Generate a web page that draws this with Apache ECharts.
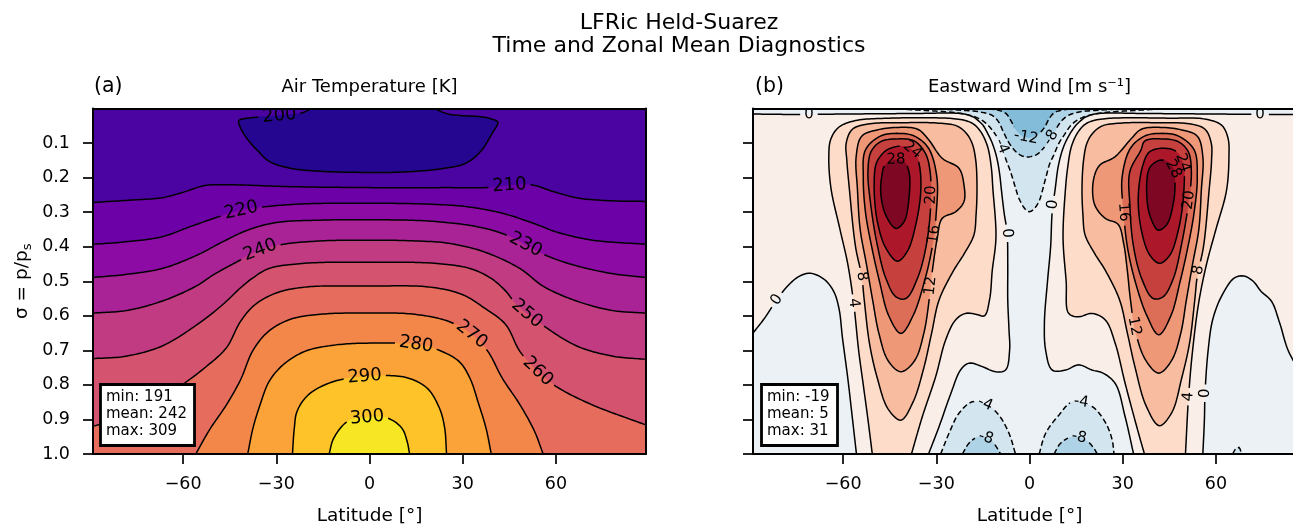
<!DOCTYPE html>
<html>
<head>
<meta charset="utf-8">
<title>LFRic Held-Suarez</title>
<script src="https://cdn.jsdelivr.net/npm/echarts@6.0.0/dist/echarts.min.js"></script>
<style>
  html, body { margin: 0; padding: 0; background: #ffffff; }
  #chart { width: 1293px; height: 525px; }
</style>
</head>
<body>
<div id="chart"></div>
<script>
// ---------------- axes ----------------
const latRange = [-89, 89];
const sigmaRange = [0, 1];
const latTicks = [-60, -30, 0, 30, 60];
const sigmaTicks = [0.1, 0.2, 0.3, 0.4, 0.5, 0.6, 0.7, 0.8, 0.9, 1.0];

// ---------------- summary statistics (min, mean, max) ----------------
const tempStats = [191, 242, 309];
const windStats = [-19, 5, 31];

// ---------------- filled-contour level ranges ----------------
const tempLevelRange = [190, 310];   // 10 K bands
const windLevelRange = [-32, 32];    // 4 m/s bands, centred on zero

// ---------------- air temperature isotherms [lat, sigma] ----------------
const t200 = [[-18.5,0],[-21.9,0.013],[-29,0.021],[-35.8,0.025],[-40,0.029],[-42.1,0.035],[-41.5,0.056],[-39.2,0.09],[-35.8,0.124],[-32.3,0.153],[-25.4,0.173],[-15,0.182],[-2.3,0.185],[10.4,0.184],[24.2,0.173],[31.1,0.158],[35.8,0.124],[39.2,0.076],[41.3,0.039],[39.5,0.031],[36.9,0.025],[25.4,0.016],[20.8,0]];
const t210 = [[-89,0.272],[-78.4,0.266],[-66.7,0.258],[-59.8,0.242],[-53,0.223],[-43.8,0.221],[-26.5,0.226],[0,0.229],[25.4,0.229],[37.6,0.229],[52,0.221],[59,0.24],[67,0.259],[77.5,0.267],[89,0.269]];
const t220 = [[-89,0.393],[-78.4,0.386],[-66.7,0.371],[-57.7,0.342],[-48.4,0.313],[-41.3,0.295],[-33.4,0.284],[-20.8,0.276],[0,0.274],[19.6,0.277],[31.1,0.284],[42.7,0.303],[54.2,0.337],[60,0.357],[71.7,0.381],[89,0.393]];
const t230 = [[-89,0.489],[-78.2,0.48],[-66.7,0.463],[-55.4,0.424],[-47.3,0.386],[-39.2,0.352],[-30,0.33],[-15,0.323],[0,0.322],[19.6,0.326],[34.6,0.342],[44,0.366],[56.5,0.424],[65.7,0.453],[77.5,0.477],[89,0.489]];
const t240 = [[-89,0.592],[-78.4,0.585],[-66.9,0.558],[-56,0.515],[-50,0.48],[-42.7,0.444],[-35.2,0.41],[-27.7,0.393],[-15,0.383],[0,0.381],[13.8,0.383],[25.4,0.39],[36.9,0.415],[48.4,0.463],[56,0.515],[66.9,0.558],[78.4,0.585],[89,0.592]];
const t250 = [[-89,0.724],[-78.4,0.717],[-66.9,0.688],[-55.4,0.625],[-47.3,0.568],[-41.5,0.519],[-37.5,0.49],[-32.3,0.463],[-20.8,0.448],[0,0.445],[20.8,0.448],[32.3,0.463],[39.2,0.492],[44,0.53],[47.3,0.568],[55.4,0.625],[66.9,0.688],[78.4,0.717],[89,0.726]];
const t260 = [[-89,0.92],[-80,0.895],[-71.5,0.857],[-64,0.822],[-59.4,0.794],[-53.1,0.751],[-46.1,0.693],[-41.5,0.616],[-36.9,0.568],[-30,0.534],[-20.8,0.517],[0,0.514],[19.6,0.517],[30,0.539],[36.9,0.577],[43.8,0.625],[48.4,0.703],[54.2,0.761],[60,0.804],[71.5,0.857],[89,0.916]];
const t270 = [[-55.9,1],[-51.5,0.93],[-46,0.857],[-41.5,0.785],[-37.5,0.7],[-32.5,0.645],[-25.4,0.61],[-15,0.595],[0,0.592],[13.8,0.595],[25.4,0.616],[32.9,0.654],[38.1,0.703],[42.7,0.78],[48.4,0.857],[53.1,0.934],[55.9,1]];
const t280 = [[-39.2,1],[-37.5,0.925],[-35.2,0.857],[-32.3,0.79],[-27.7,0.741],[-20.8,0.703],[-11.5,0.685],[0,0.679],[15,0.683],[21.9,0.698],[28.8,0.732],[32.3,0.78],[35.2,0.857],[37.5,0.925],[39.2,1]];
const t290 = [[-24.8,1],[-24.2,0.925],[-23.3,0.876],[-19.6,0.828],[-11.5,0.79],[0,0.775],[11.5,0.778],[18.5,0.809],[22.5,0.867],[24.2,0.925],[24.8,1]];
const t300 = [[-13,1],[-11.5,0.954],[-6.9,0.905],[0,0.894],[5.8,0.896],[10.4,0.925],[12.1,0.963],[12.9,1]];
// inline isotherm labels [level, lat, sigma]
const tempLabelSpots = [[200,-29,0.021],[210,44.8,0.225],[220,-41.3,0.295],[230,49.8,0.397],[240,-35.2,0.41],[250,50.7,0.597],[260,54.2,0.761],[270,32.9,0.654],[280,15,0.683],[290,-1.2,0.775],[300,-0.9,0.894]];

// ---------------- eastward wind isotachs [lat, sigma] ----------------
// zero lines
const u0West = [[-89,0.016],[-80,0.017],[-71,0.017],[-60,0.016],[-45,0.015],[-33,0.014],[-26,0.013],[-21,0.016],[-18,0.025],[-16.5,0.035],[-15,0.048],[-13.6,0.07],[-12,0.1],[-10.6,0.14],[-9.6,0.19],[-9.1,0.231],[-8.2,0.3],[-7.2,0.361],[-7,0.45],[-7,0.554],[-6.6,0.64],[-6.4,0.699],[-7.7,0.757],[-10.9,0.762],[-15.2,0.747],[-19.5,0.737],[-22.2,0.757],[-25.4,0.827],[-29.2,0.923],[-32.5,1]];
const u0East = [[33.5,1],[30.8,0.893],[27.6,0.796],[23.5,0.765],[20.1,0.757],[15.8,0.742],[11.6,0.757],[7.3,0.757],[5.2,0.7],[4.8,0.62],[5.8,0.5],[6.8,0.4],[7.3,0.3],[8.3,0.231],[9.2,0.17],[10.6,0.12],[12,0.09],[13.6,0.065],[15,0.048],[16.5,0.035],[18,0.025],[21,0.016],[26,0.013],[33,0.014],[45,0.015],[60,0.016],[75,0.017],[89,0.017]];
const u0PolarW = [[-89,0.65],[-85.2,0.606],[-81.8,0.56],[-78,0.515],[-74,0.485],[-70.4,0.477],[-66,0.495],[-63,0.53],[-61.3,0.58],[-60.2,0.664],[-58.5,0.78],[-56.9,0.905],[-55.7,1]];
const u0PolarE = [[55.8,1],[56.3,0.9],[56.5,0.824],[57.5,0.7],[59,0.61],[62,0.54],[66,0.49],[69,0.485],[72,0.5],[74.5,0.529],[77.9,0.558],[80.5,0.62],[83.4,0.703],[89,0.79]];
// easterlies
const uNeg4Top = [[-45,0],[-35,0.005],[-25,0.011],[-19,0.02],[-15.5,0.033],[-13.2,0.05],[-11,0.075],[-9,0.11],[-7.5,0.15],[-6.1,0.183],[-4.5,0.23],[-3.4,0.26],[-1.5,0.29],[0,0.299],[1.5,0.29],[3,0.27],[5.2,0.202],[6.5,0.16],[7.8,0.135],[9.5,0.1],[11.3,0.075],[13.2,0.05],[15.5,0.033],[19,0.02],[25,0.011],[35,0.005],[45,0]];
const uNeg8Top = [[-32,0],[-22,0.005],[-16,0.01],[-12,0.02],[-10,0.038],[-8.3,0.07],[-6.2,0.105],[-3.5,0.132],[-1.1,0.14],[2,0.135],[4.5,0.115],[6.5,0.09],[8.5,0.06],[10.3,0.036],[12.5,0.02],[16,0.01],[22,0.005],[32,0]];
const uNeg12Top = [[-16,0],[-10,0.005],[-7.5,0.015],[-6,0.035],[-4.3,0.062],[-1.1,0.084],[2.5,0.076],[4.8,0.055],[6.3,0.03],[8,0.012],[11,0.004],[16,0]];
const uNeg4BotW = [[-28.6,1],[-25.9,0.94],[-22.7,0.882],[-18.4,0.849],[-13.6,0.858],[-9.9,0.887],[-6.6,0.94],[-4.5,1]];
const uNeg8BotW = [[-21.6,1],[-19.5,0.969],[-16.3,0.95],[-12.6,0.959],[-10.4,0.983],[-9.3,1]];
const uNeg4BotE = [[3.1,1],[5.2,0.94],[9.5,0.887],[13.8,0.849],[20.2,0.863],[24.5,0.91],[26.6,0.959],[27.2,1]];
const uNeg8BotE = [[7.9,1],[10,0.969],[13.8,0.95],[18,0.959],[20.7,0.983],[21.8,1]];
const uNeg4Spot = [[65.4,1],[66.3,0.986],[67.4,0.981],[68.3,1]];
// southern jet
const uJetW4 = [[-38,1],[-34.5,0.892],[-30.2,0.776],[-27,0.67],[-23.8,0.612],[-20.6,0.593],[-17,0.596],[-14.5,0.6],[-12.8,0.55],[-12,0.47],[-10.8,0.373],[-11.8,0.231],[-12.3,0.17],[-13.5,0.11],[-15.5,0.07],[-18,0.045],[-21,0.034],[-25,0.029],[-30,0.027],[-45,0.028],[-56,0.035],[-61.5,0.055],[-64,0.09],[-64.6,0.14],[-63.9,0.231],[-61,0.35],[-58.5,0.45],[-56.6,0.563],[-55,0.7],[-53.5,0.8],[-52,0.9],[-50.6,1]];
const uJetW8 = [[-23.5,0.05],[-20.5,0.07],[-18.5,0.1],[-17.3,0.15],[-16.9,0.231],[-17.2,0.308],[-17.9,0.366],[-21,0.42],[-24.5,0.47],[-29.1,0.554],[-31.5,0.65],[-34,0.75],[-37.5,0.85],[-41.4,0.902],[-45.5,0.87],[-49,0.78],[-51.5,0.68],[-53.2,0.554],[-54,0.486],[-56,0.4],[-58,0.231],[-58.8,0.15],[-59,0.1],[-57,0.06],[-52,0.045],[-40,0.041],[-30,0.042]];
const uJetW12 = [[-43,0.055],[-36,0.06],[-32.5,0.09],[-28.1,0.144],[-22.7,0.173],[-21.1,0.221],[-21.1,0.27],[-23.8,0.299],[-28.1,0.318],[-29.7,0.376],[-31.3,0.472],[-32.3,0.554],[-34,0.65],[-37,0.73],[-41.4,0.762],[-45.5,0.73],[-48.5,0.65],[-50.5,0.554],[-52.5,0.45],[-54.5,0.35],[-55.4,0.231],[-55.8,0.14],[-54,0.08],[-49,0.062]];
const uJetW16 = [[-42,0.072],[-37,0.08],[-32.5,0.115],[-29.8,0.2],[-30,0.3],[-31.3,0.4],[-33.8,0.5],[-37.5,0.6],[-41.4,0.651],[-45.3,0.6],[-48.3,0.5],[-50.8,0.4],[-52.8,0.3],[-53.5,0.2],[-52.8,0.12],[-48,0.08]];
const uJetW20 = [[-42.5,0.088],[-37.1,0.094],[-33.5,0.13],[-32,0.183],[-31.8,0.279],[-33.2,0.395],[-36,0.49],[-39.8,0.55],[-43,0.545],[-46.3,0.49],[-49,0.395],[-51.1,0.279],[-52,0.183],[-51,0.125],[-47.9,0.096]];
const uJetW24 = [[-49.5,0.164],[-50,0.231],[-49,0.326],[-46.3,0.403],[-42.5,0.442],[-39.3,0.413],[-36.6,0.336],[-35,0.239],[-35.5,0.162],[-37.2,0.124],[-40.9,0.109],[-45.7,0.119],[-48.4,0.143]];
const uJetW28 = [[-47.3,0.183],[-47.9,0.241],[-46.3,0.308],[-43,0.347],[-40.4,0.328],[-38.8,0.26],[-38.8,0.183],[-40.4,0.154],[-43.6,0.149],[-46.8,0.168]];
// northern jet
const uJetE4 = [[37,1],[35.1,0.94],[30.8,0.796],[27.6,0.68],[24.4,0.612],[20.1,0.593],[15.8,0.603],[12.6,0.593],[11.8,0.5],[10.8,0.373],[11.6,0.231],[12.3,0.17],[13.5,0.11],[15.5,0.07],[18,0.045],[21,0.034],[25,0.029],[30,0.027],[45,0.028],[56,0.03],[61.8,0.048],[63.9,0.086],[64.2,0.14],[63.4,0.238],[60,0.35],[57,0.45],[54.5,0.56],[52.5,0.7],[51.2,0.834],[50.2,1]];
const uJetE8 = [[23.5,0.05],[20.5,0.07],[18.5,0.1],[17.4,0.15],[16.9,0.231],[17.2,0.308],[17.9,0.366],[21,0.42],[24.5,0.47],[29,0.554],[31.5,0.65],[34,0.75],[37.5,0.86],[41.8,0.918],[45.8,0.88],[49,0.78],[51.5,0.68],[53.2,0.554],[54,0.486],[56,0.4],[57.8,0.238],[58.6,0.15],[58.5,0.1],[56.5,0.06],[52,0.045],[40,0.041],[30,0.042]];
const uJetE12 = [[43,0.055],[36,0.06],[32.5,0.09],[27.5,0.14],[22.5,0.165],[20.5,0.212],[21,0.279],[24.4,0.318],[28.5,0.335],[30.3,0.39],[31.5,0.47],[32.5,0.554],[34.2,0.65],[37.5,0.73],[41.6,0.766],[45.7,0.73],[48.7,0.65],[50.5,0.554],[52.5,0.45],[54.5,0.35],[55.3,0.238],[55.8,0.14],[54,0.08],[49,0.062]];
const uJetE16 = [[42,0.072],[37,0.08],[32.5,0.115],[29.8,0.2],[30.3,0.3],[31.5,0.4],[34,0.5],[37.8,0.6],[41.6,0.655],[45.5,0.6],[48.5,0.5],[51,0.4],[53,0.3],[54,0.2],[53,0.12],[48,0.08]];
const uJetE20 = [[42.5,0.088],[37.1,0.094],[35.9,0.12],[32.3,0.183],[32.3,0.279],[33.4,0.395],[36.1,0.492],[39.8,0.55],[43,0.545],[46.3,0.492],[48.9,0.395],[51.1,0.279],[52.1,0.183],[51.1,0.125],[47.9,0.096]];
const uJetE24 = [[36.5,0.164],[35,0.26],[36.1,0.356],[38.7,0.424],[41.9,0.448],[45.2,0.424],[47.8,0.356],[49.5,0.26],[49.5,0.164],[47.3,0.125],[43.6,0.115],[38.7,0.125]];
const uJetE28 = [[38.2,0.183],[37.7,0.241],[38.7,0.308],[41.4,0.352],[44.1,0.337],[46.2,0.279],[46.8,0.212],[45.7,0.164],[42.5,0.149],[39.3,0.164]];
// inline isotach labels [level, lat, sigma]
const windLabelSpots = [
  [0,-71.2,0.017],[0,74.2,0.017],
  [-12,-1.1,0.084],[-8,7.3,0.086],[-4,-9.5,0.11],
  [0,-7.2,0.361],[0,7.3,0.279],
  [28,-43,0.163],[24,-38.8,0.13],[20,-32.3,0.25],[16,-31.8,0.366],[12,-30.8,0.514],[8,-54,0.486],[4,-56.6,0.563],[0,-81.8,0.553],
  [28,44.6,0.178],[24,47.3,0.164],[20,50.5,0.265],[16,30.7,0.299],[12,32.9,0.635],[8,53.2,0.467],[4,51.2,0.834],[0,56.5,0.824],
  [-4,-14.4,0.852],[-8,-14.4,0.952],[-4,16.8,0.85],[-8,15.6,0.952]
];

// ---------------- colour maps ----------------
const PLASMA = ['#0d0887','#2a0593','#41049d','#5502a4','#6a00a8','#7e03a8','#8f0da4','#a11b9b','#b12a90','#bf3984','#cc4778','#d6556d','#e16462','#ea7457','#f2844b','#f89540','#fca636','#feb72d','#fcce25','#f7e225','#f0f921'];
const RDBU_R = ['#053061','#2166ac','#4393c3','#92c5de','#d1e5f0','#f7f7f7','#fddbc7','#f4a582','#d6604d','#b2182b','#67001f'];
function hexRgb(h) { const n = parseInt(h.slice(1), 16); return [(n >> 16) & 255, (n >> 8) & 255, n & 255]; }
function cmapAt(stops, t) {
  t = Math.max(0, Math.min(1, t));
  const x = t * (stops.length - 1);
  const i = Math.min(stops.length - 2, Math.floor(x));
  const f = x - i;
  const a = hexRgb(stops[i]), b = hexRgb(stops[i + 1]);
  return 'rgb(' + a.map((v, k) => Math.round(v + (b[k] - v) * f)).join(',') + ')';
}
const tempColor = lo => cmapAt(PLASMA, (lo + 5 - tempLevelRange[0]) / (tempLevelRange[1] - tempLevelRange[0]));
const windColor = lo => cmapAt(RDBU_R, (lo + 2 - windLevelRange[0]) / (windLevelRange[1] - windLevelRange[0]));

// ---------------- panel descriptions ----------------
const L0 = latRange[0], L1 = latRange[1], S0 = sigmaRange[0], S1 = sigmaRange[1];
const frameBox = [[L0, S0], [L1, S0], [L1, S1], [L0, S1]];
const floorCorners = [[L1, S1], [L0, S1]];

const tempPanel = {
  color: tempColor,
  labelSize: 18,
  lines: [[200,t200,false],[210,t210,false],[220,t220,false],[230,t230,false],[240,t240,false],[250,t250,false],[260,t260,false],[270,t270,false],[280,t280,false],[290,t290,false],[300,t300,false]],
  labels: tempLabelSpots,
  regions: [
    {lo: 200, parts: [[frameBox, null]]},
    {lo: 190, parts: [[t200, 'open']]},
    {lo: 210, parts: [[t210, 'open'], [floorCorners, null]]},
    {lo: 220, parts: [[t220, 'open'], [floorCorners, null]]},
    {lo: 230, parts: [[t230, 'open'], [floorCorners, null]]},
    {lo: 240, parts: [[t240, 'open'], [floorCorners, null]]},
    {lo: 250, parts: [[t250, 'open'], [floorCorners, null]]},
    {lo: 260, parts: [[t260, 'open'], [floorCorners, null]]},
    {lo: 270, parts: [[t270, 'open']]},
    {lo: 280, parts: [[t280, 'open']]},
    {lo: 290, parts: [[t290, 'open']]},
    {lo: 300, parts: [[t300, 'open']]}
  ]
};

const windPanel = {
  color: windColor,
  labelSize: 15,
  lines: [
    [0,u0West,false],[0,u0East,false],[0,u0PolarW,false],[0,u0PolarE,false],
    [-4,uNeg4Top,false],[-8,uNeg8Top,false],[-12,uNeg12Top,false],
    [-4,uNeg4BotW,false],[-8,uNeg8BotW,false],[-4,uNeg4BotE,false],[-8,uNeg8BotE,false],[-4,uNeg4Spot,false],
    [4,uJetW4,false],[8,uJetW8,true],[12,uJetW12,true],[16,uJetW16,true],[20,uJetW20,true],[24,uJetW24,true],[28,uJetW28,true],
    [4,uJetE4,false],[8,uJetE8,true],[12,uJetE12,true],[16,uJetE16,true],[20,uJetE20,true],[24,uJetE24,true],[28,uJetE28,true]
  ],
  labels: windLabelSpots,
  regions: [
    {lo: 0, parts: [[frameBox, null]]},
    {lo: -4, parts: [[[[L0, S0]], null], [u0West, 'open'], [u0East, 'open'], [[[L1, S0]], null]]},
    {lo: -4, parts: [[u0PolarW, 'open'], [[[L0, S1]], null]]},
    {lo: -4, parts: [[u0PolarE, 'open'], [[[L1, S1]], null]]},
    {lo: -8, parts: [[uNeg4Top, 'open']]},
    {lo: -8, parts: [[uNeg4BotW, 'open']]},
    {lo: -8, parts: [[uNeg4BotE, 'open']]},
    {lo: -8, parts: [[uNeg4Spot, 'open']]},
    {lo: -12, parts: [[uNeg8Top, 'open']]},
    {lo: -12, parts: [[uNeg8BotW, 'open']]},
    {lo: -12, parts: [[uNeg8BotE, 'open']]},
    {lo: -16, parts: [[uNeg12Top, 'open']]},
    {lo: 4, parts: [[uJetW4, 'open']]},
    {lo: 4, parts: [[uJetE4, 'open']]},
    {lo: 8, parts: [[uJetW8, 'closed']]},
    {lo: 8, parts: [[uJetE8, 'closed']]},
    {lo: 12, parts: [[uJetW12, 'closed']]},
    {lo: 12, parts: [[uJetE12, 'closed']]},
    {lo: 16, parts: [[uJetW16, 'closed']]},
    {lo: 16, parts: [[uJetE16, 'closed']]},
    {lo: 20, parts: [[uJetW20, 'closed']]},
    {lo: 20, parts: [[uJetE20, 'closed']]},
    {lo: 24, parts: [[uJetW24, 'closed']]},
    {lo: 24, parts: [[uJetE24, 'closed']]},
    {lo: 28, parts: [[uJetW28, 'closed']]},
    {lo: 28, parts: [[uJetE28, 'closed']]}
  ]
};

// ---------------- geometry helpers (pixel space) ----------------
const FONT = 'DejaVu Sans';
const measureCtx = document.createElement('canvas').getContext('2d');
function textWidth(t, size) { measureCtx.font = size + 'px "' + FONT + '"'; return measureCtx.measureText(t).width; }
function lerp(a, b, u) { return [a[0] + (b[0] - a[0]) * u, a[1] + (b[1] - a[1]) * u]; }

// centripetal Catmull-Rom curve through the given vertices
function smoothPath(pts, closed) {
  const n = pts.length;
  if (n < 3) return pts.map(p => p.slice());
  const get = i => closed ? pts[((i % n) + n) % n] : pts[Math.max(0, Math.min(n - 1, i))];
  const knot = (a, b) => Math.max(Math.sqrt(Math.hypot(b[0] - a[0], b[1] - a[1])), 1e-3);
  const out = [];
  const segs = closed ? n : n - 1;
  for (let i = 0; i < segs; i++) {
    const p1 = get(i), p2 = get(i + 1);
    let p0 = get(i - 1), p3 = get(i + 2);
    if (!closed && i === 0) p0 = [2 * p1[0] - p2[0], 2 * p1[1] - p2[1]];
    if (!closed && i === n - 2) p3 = [2 * p2[0] - p1[0], 2 * p2[1] - p1[1]];
    const t0 = 0, t1 = t0 + knot(p0, p1), t2 = t1 + knot(p1, p2), t3 = t2 + knot(p2, p3);
    const steps = Math.max(2, Math.ceil(Math.hypot(p2[0] - p1[0], p2[1] - p1[1]) / 2.5));
    for (let k = 0; k < steps; k++) {
      const t = t1 + (t2 - t1) * k / steps;
      const a1 = lerp(p0, p1, (t - t0) / (t1 - t0));
      const a2 = lerp(p1, p2, (t - t1) / (t2 - t1));
      const a3 = lerp(p2, p3, (t - t2) / (t3 - t2));
      const b1 = lerp(a1, a2, (t - t0) / (t2 - t0));
      const b2 = lerp(a2, a3, (t - t1) / (t3 - t1));
      out.push(lerp(b1, b2, (t - t1) / (t2 - t1)));
    }
  }
  if (!closed) out.push(pts[n - 1].slice());
  return out;
}
function cumLen(p) {
  const c = [0];
  for (let i = 1; i < p.length; i++) c.push(c[i - 1] + Math.hypot(p[i][0] - p[i - 1][0], p[i][1] - p[i - 1][1]));
  return c;
}
function pointAt(ln, s) {
  const c = ln.cum, p = ln.pts;
  if (s <= 0) return p[0].slice();
  if (s >= c[c.length - 1]) return p[p.length - 1].slice();
  let i = 1;
  while (c[i] < s) i++;
  return lerp(p[i - 1], p[i], (s - c[i - 1]) / ((c[i] - c[i - 1]) || 1));
}
function subPath(ln, a, b) {
  const out = [pointAt(ln, a)];
  for (let k = 0; k < ln.pts.length; k++) if (ln.cum[k] > a && ln.cum[k] < b) out.push(ln.pts[k]);
  out.push(pointAt(ln, b));
  return out;
}
function splitByCuts(ln) {
  if (!ln.cuts.length) return [ln.pts];
  const cuts = ln.cuts.slice().sort((x, y) => x[0] - y[0]);
  const total = ln.cum[ln.cum.length - 1];
  const vis = [];
  let s = 0;
  cuts.forEach(([a, b]) => { if (a > s) vis.push([s, a]); s = Math.max(s, b); });
  if (s < total) vis.push([s, total]);
  return vis.map(([a, b]) => subPath(ln, a, b));
}
const levelText = v => (v < 0 ? '-' + Math.abs(v) : String(v));

// builds fills, line pieces (with gaps for labels) and label placements for one panel
function panelGeometry(panel, api) {
  const probe = api.coord([0, 0.5]);
  const key = probe[0].toFixed(2) + ',' + probe[1].toFixed(2);
  if (panel.geo && panel.geo.key === key) return panel.geo;
  const px = p => api.coord(p);
  const lines = panel.lines.map(([level, pts, closed]) => {
    const d = smoothPath(pts.map(px), closed);
    if (closed) d.push(d[0].slice());
    return {level, pts: d, cum: cumLen(d), cuts: []};
  });
  const labels = [];
  panel.labels.forEach(([level, lat, sig]) => {
    const target = px([lat, sig]);
    let best = null;
    lines.forEach((ln, li) => {
      if (ln.level !== level) return;
      ln.pts.forEach((p, k) => {
        const dd = (p[0] - target[0]) ** 2 + (p[1] - target[1]) ** 2;
        if (!best || dd < best.dd) best = {dd, li, k};
      });
    });
    if (!best) return;
    const ln = lines[best.li];
    const text = levelText(level);
    const hw = textWidth(text, panel.labelSize) / 2 + 4;
    const s0 = ln.cum[best.k];
    const a = pointAt(ln, s0 - hw), b = pointAt(ln, s0 + hw);
    let ang = Math.atan2(b[1] - a[1], b[0] - a[0]);
    if (ang > Math.PI / 2) ang -= Math.PI;
    if (ang < -Math.PI / 2) ang += Math.PI;
    ln.cuts.push([s0 - hw, s0 + hw]);
    const c = ln.pts[best.k];
    labels.push({text, x: c[0], y: c[1], rotation: -ang});
  });
  const pieces = lines.map(ln => ({level: ln.level, paths: splitByCuts(ln)}));
  const regions = panel.regions.map(r => {
    let poly = [];
    r.parts.forEach(([pts, mode]) => {
      const p = pts.map(px);
      poly = poly.concat(mode ? smoothPath(p, mode === 'closed') : p);
    });
    return {color: panel.color(r.lo), poly};
  });
  panel.geo = {key, lines: pieces, labels, regions};
  return panel.geo;
}

function panelSeries(panel, axisIndex) {
  const base = {type: 'custom', xAxisIndex: axisIndex, yAxisIndex: axisIndex, clip: true, silent: true, animation: false, encode: {x: 0, y: 1}};
  return [
    Object.assign({}, base, {
      z: 2,
      data: panel.regions.map((r, i) => [0, 0.5, i]),
      renderItem: (params, api) => {
        const r = panelGeometry(panel, api).regions[params.dataIndex];
        return {type: 'polygon', shape: {points: r.poly}, style: {fill: r.color, stroke: r.color, lineWidth: 0.5}};
      }
    }),
    Object.assign({}, base, {
      z: 3,
      data: panel.lines.map((l, i) => [0, 0.5, i]),
      renderItem: (params, api) => {
        const ln = panelGeometry(panel, api).lines[params.dataIndex];
        return {
          type: 'group',
          children: ln.paths.map(p => ({
            type: 'polyline',
            shape: {points: p},
            style: {stroke: '#000', lineWidth: 1.5, fill: null, lineDash: ln.level < 0 ? [5.5, 3] : null}
          }))
        };
      }
    }),
    Object.assign({}, base, {
      z: 4,
      data: panel.labels.map((l, i) => [0, 0.5, i]),
      renderItem: (params, api) => {
        const lb = panelGeometry(panel, api).labels[params.dataIndex];
        if (!lb) return null;
        return {
          type: 'text', x: lb.x, y: lb.y, rotation: lb.rotation,
          style: {text: lb.text, fill: '#000', fontSize: panel.labelSize, fontFamily: FONT, align: 'center', verticalAlign: 'middle'}
        };
      }
    })
  ];
}

// ---------------- layout ----------------
const GRID_TOP = 108.5, GRID_H = 345.5, GRID_W = 553;
const PANEL_LEFT = [93, 753];
const AXIS_W = 2;
const TICK_FONT = 17.5;
const fmtLat = v => (v < 0 ? '\u2212' + Math.abs(v) : String(v));

function xAxesFor(gi) {
  return [
    {
      gridIndex: gi, type: 'value', position: 'bottom', min: L0, max: L1, z: 10,
      axisLine: {show: true, onZero: false, lineStyle: {color: '#000', width: AXIS_W}},
      axisTick: {show: true, inside: false, length: 10, customValues: latTicks, lineStyle: {color: '#000', width: 1.7}},
      axisLabel: {show: true, customValues: latTicks, formatter: fmtLat, margin: 21, fontSize: TICK_FONT, color: '#000', fontFamily: FONT},
      splitLine: {show: false}, minorTick: {show: false},
      name: 'Latitude [°]', nameLocation: 'middle', nameGap: 53,
      nameTextStyle: {fontSize: 18.5, color: '#000', fontFamily: FONT}
    },
    {
      gridIndex: gi, type: 'value', position: 'top', min: L0, max: L1, z: 10,
      axisLine: {show: true, onZero: false, lineStyle: {color: '#000', width: AXIS_W}},
      axisTick: {show: false}, axisLabel: {show: false}, splitLine: {show: false}
    }
  ];
}
function yAxesFor(gi, withLabels) {
  const left = {
    gridIndex: gi, type: 'value', position: 'left', inverse: true, min: S0, max: S1, z: 10,
    axisLine: {show: true, onZero: false, lineStyle: {color: '#000', width: AXIS_W}},
    axisTick: {show: true, inside: false, length: 10, customValues: sigmaTicks, lineStyle: {color: '#000', width: 1.7}},
    axisLabel: {show: withLabels, customValues: sigmaTicks, formatter: v => v.toFixed(1), margin: 23, fontSize: TICK_FONT, color: '#000', fontFamily: FONT},
    splitLine: {show: false}, minorTick: {show: false}
  };
  if (withLabels) {
    Object.assign(left, {
      name: '{a|σ = p/p}{b|s}', nameLocation: 'middle', nameGap: 59,
      nameTextStyle: {
        color: '#000', fontFamily: FONT, fontSize: 18.5,
        rich: {
          a: {fontSize: 18.5, fontFamily: FONT, color: '#000', lineHeight: 23},
          b: {fontSize: 13, fontFamily: FONT, color: '#000', lineHeight: 12, verticalAlign: 'bottom'}
        }
      }
    });
  }
  const right = {
    gridIndex: gi, type: 'value', position: 'right', inverse: true, min: S0, max: S1, z: 10,
    axisLine: {show: true, onZero: false, lineStyle: {color: '#000', width: AXIS_W}},
    axisTick: {show: false}, axisLabel: {show: false}, splitLine: {show: false}
  };
  return [left, right];
}
function statsBox(s, left) {
  return {
    text: 'min: ' + s[0] + '\nmean: ' + s[1] + '\nmax: ' + s[2],
    left: left, top: 384, z: 20,
    padding: [5, 8, 6, 6], backgroundColor: '#fff', borderColor: '#000', borderWidth: 2.8,
    textStyle: {fontSize: 15, fontWeight: 'normal', lineHeight: 17, color: '#000', fontFamily: FONT}
  };
}
function label(x, y, text, size, align) {
  return {
    type: 'text', x: x, y: y, z: 30,
    style: {text: text, fill: '#000', font: size + 'px "' + FONT + '"', fontSize: size, fontFamily: FONT,
            align: align, verticalAlign: 'middle', textAlign: align, textVerticalAlign: 'middle'}
  };
}

const chart = echarts.init(document.getElementById('chart'), null, {renderer: 'canvas'});
chart.setOption({
  animation: false,
  backgroundColor: '#ffffff',
  grid: PANEL_LEFT.map(l => ({left: l, top: GRID_TOP, width: GRID_W, height: GRID_H, containLabel: false, outerBoundsMode: 'none', show: false})),
  xAxis: xAxesFor(0).concat(xAxesFor(1)),
  yAxis: yAxesFor(0, true).concat(yAxesFor(1, false)),
  title: [statsBox(tempStats, PANEL_LEFT[0] + 7), statsBox(windStats, PANEL_LEFT[1] + 8)],
  graphic: [
    label(679, 23, 'LFRic Held-Suarez', 22, 'center'),
    label(679, 46, 'Time and Zonal Mean Diagnostics', 22, 'center'),
    label(PANEL_LEFT[0] + 1, 87, '(a)', 20.5, 'left'),
    label(PANEL_LEFT[0] + GRID_W / 2, 87, 'Air Temperature [K]', 18, 'center'),
    label(PANEL_LEFT[1] + 2, 87, '(b)', 20.5, 'left'),
    label(PANEL_LEFT[1] + GRID_W / 2, 87, 'Eastward Wind [m s\u207B\u00B9]', 18, 'center')
  ],
  series: panelSeries(tempPanel, 0).concat(panelSeries(windPanel, 2))
});
</script>
</body>
</html>
